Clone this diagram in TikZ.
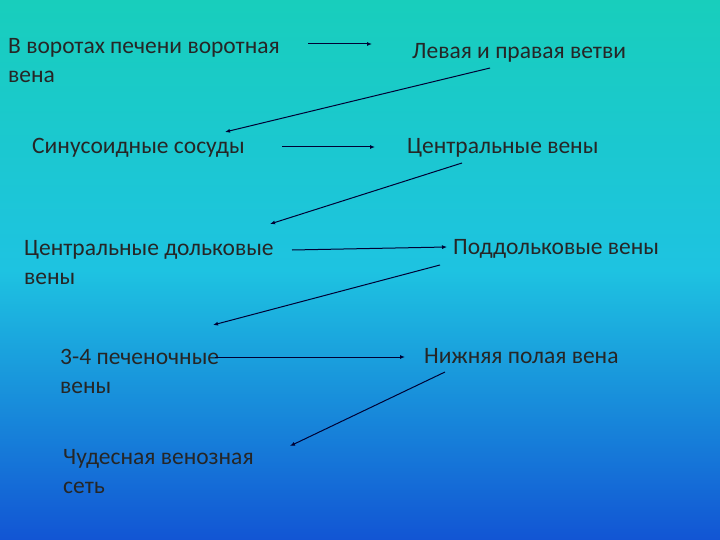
\documentclass[tikz,border=0pt]{standalone}
\usepackage{fontspec}
\setmainfont{Carlito}
\usetikzlibrary{arrows.meta}
\begin{document}
\begin{tikzpicture}[x=1pt,y=-1pt,
  lbl/.style={anchor=west,align=left,inner sep=0pt,font=\fontsize{23.5}{29}\selectfont,text=black!85},
  arr/.style={draw=black!80!blue,line width=1pt,-{Latex[length=5pt,width=4pt]}}]
\shade[top color={rgb,255:red,24;green,206;blue,188},bottom color={rgb,255:red,18;green,85;blue,212},middle color={rgb,255:red,30;green,195;blue,225}] (0,0) rectangle (720,540);
\useasboundingbox (0,0) rectangle (720,540);
\node[lbl] (t1) at (8,61) {В воротах печени воротная\\вена};
\node[lbl] (t2) at (412,53) {Левая и правая ветви};
\node[lbl] (t3) at (32,148) {Синусоидные сосуды};
\node[lbl] (t4) at (407,148) {Центральные вены};
\node[lbl] (t5) at (24,263) {Центральные дольковые\\вены};
\node[lbl] (t6) at (453,249) {Поддольковые вены};
\node[lbl] (t7) at (60,371) {3-4 печеночные\\вены};
\node[lbl] (t8) at (424,356) {Нижняя полая вена};
\node[lbl] (t9) at (63,472) {Чудесная венозная\\сеть};
\coordinate (a1s) at (308,44); \coordinate (a1e) at (372,44);
\coordinate (a2s) at (490,68); \coordinate (a2e) at (225,132);
\coordinate (a3s) at (282,147); \coordinate (a3e) at (375,147);
\coordinate (a4s) at (462,163); \coordinate (a4e) at (270,224);
\coordinate (a5s) at (292,250); \coordinate (a5e) at (447,247);
\coordinate (a6s) at (440,265); \coordinate (a6e) at (213,325);
\coordinate (a7s) at (215,357); \coordinate (a7e) at (405,357);
\coordinate (a8s) at (445,372); \coordinate (a8e) at (290,446);
\foreach \i in {1,...,8} \draw[arr] (a\i s) -- (a\i e);
\end{tikzpicture}
\end{document}
